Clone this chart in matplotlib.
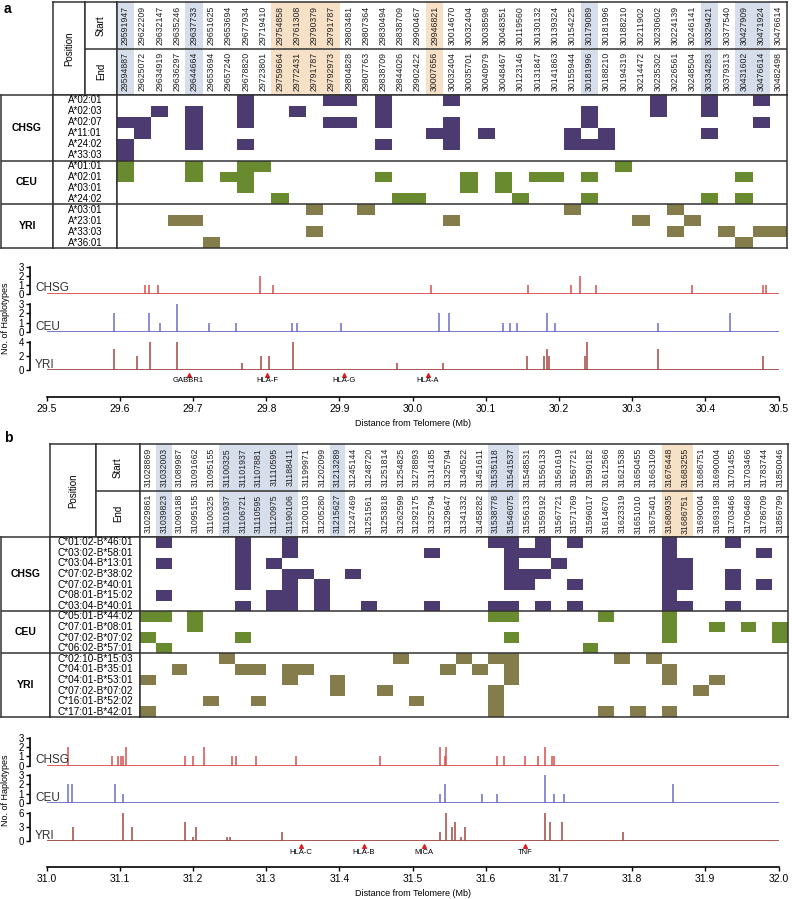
import matplotlib
matplotlib.use('Agg')
import matplotlib.pyplot as plt
import numpy as np
from matplotlib.colors import ListedColormap
from matplotlib.transforms import blended_transform_factory

plt.rcParams['font.family'] = ['Liberation Sans', 'DejaVu Sans']

W, H = 792, 899

# ---------------- panel a data ----------------
a_start = [29591947, 29622209, 29632147, 29635246, 29637733, 29651625, 29653694, 29677934,
           29719410, 29754858, 29761308, 29790379, 29791787, 29803481, 29807364, 29830494,
           29838709, 29900467, 29946821, 30014670, 30032404, 30038598, 30048351, 30119560,
           30130132, 30139324, 30154225, 30179089, 30181996, 30188210, 30211902, 30230602,
           30224139, 30246141, 30329421, 30377540, 30427909, 30471924, 30476614]
a_end = [29594887, 29625072, 29634919, 29636297, 29644664, 29653694, 29657240, 29678820,
         29723801, 29759664, 29772431, 29791787, 29792973, 29804828, 29807763, 29838709,
         29844026, 29902422, 30007656, 30032404, 30035701, 30040979, 30048467, 30123146,
         30131847, 30141863, 30155944, 30181996, 30188210, 30194319, 30214472, 30235302,
         30226561, 30248504, 30334283, 30379313, 30431602, 30476614, 30482498]
a_blue = [1, 5, 28, 35, 37, 38]
a_orange = [10, 11, 12, 13, 19]

a_chsg_alleles = ['A*02:01', 'A*02:03', 'A*02:07', 'A*11:01', 'A*24:02', 'A*33:03']
a_chsg_cells = [[8, 13, 14, 16, 20, 32, 35, 38],
                [3, 5, 8, 11, 16, 28, 32, 35],
                [1, 2, 5, 8, 13, 14, 16, 20, 28, 38],
                [2, 5, 19, 20, 22, 27, 29, 35],
                [1, 5, 8, 16, 20, 27, 28, 29],
                [1]]
a_ceu_alleles = ['A*01:01', 'A*02:01', 'A*03:01', 'A*24:02']
a_ceu_cells = [[1, 5, 8, 9, 30],
               [1, 5, 7, 8, 16, 21, 23, 25, 26, 28, 37],
               [8, 21, 23],
               [10, 17, 18, 24, 28, 35, 37]]
a_yri_alleles = ['A*03:01', 'A*23:01', 'A*33:03', 'A*36:01']
a_yri_cells = [[12, 15, 27, 33],
               [4, 5, 20, 31, 34],
               [12, 33, 36, 38, 39],
               [6, 37]]

a_chsg_x = [29.635, 29.640, 29.652, 29.792, 29.809, 30.025, 30.158, 30.216, 30.229,
            30.250, 30.382, 30.479, 30.483]
a_chsg_n = [1, 1, 1, 2, 1, 1, 1, 1, 2, 1, 1, 1, 1]
a_ceu_x = [29.592, 29.640, 29.655, 29.678, 29.722, 29.758, 29.835, 29.842, 29.902,
           30.036, 30.050, 30.124, 30.133, 30.143, 30.183, 30.194, 30.335, 30.434]
a_ceu_n = [2, 2, 1, 3, 1, 1, 1, 1, 1, 2, 2, 1, 1, 1, 2, 1, 1, 2]
a_yri_x = [29.5925, 29.623, 29.641, 29.678, 29.767, 29.793, 29.804, 29.836, 29.979,
           30.042, 30.157, 30.180, 30.183, 30.187, 30.235, 30.238, 30.335, 30.479]
a_yri_n = [3, 2, 4, 4, 1, 2, 2, 4, 1, 1, 2, 2, 3, 2, 2, 4, 3, 2]
a_genes = ['GABBR1', 'HLA-F', 'HLA-G', 'HLA-A']
a_gene_pos = [29.694, 29.801, 29.906, 30.021]
a_ticks = [29.5, 29.6, 29.7, 29.8, 29.9, 30.0, 30.1, 30.2, 30.3, 30.4, 30.5]

# ---------------- panel b data ----------------
b_start = [31028869, 31032003, 31089987, 31091662, 31095155, 31100325, 31101937, 31107881,
           31110595, 31188411, 31199971, 31202099, 31213289, 31245144, 31248720, 31251814,
           31254825, 31278893, 31314185, 31325794, 31340522, 31451611, 31535118, 31541537,
           31548531, 31556133, 31561619, 31567721, 31590182, 31612566, 31621538, 31650455,
           31663109, 31676448, 31683255, 31686751, 31690004, 31701455, 31703466, 31783744,
           31850046]
b_end = [31029861, 31039823, 31090188, 31095155, 31100325, 31101937, 31106721, 31110595,
         31120975, 31190106, 31200103, 31205280, 31215627, 31247469, 31251561, 31253818,
         31262599, 31292175, 31325794, 31329647, 31341332, 31458282, 31538778, 31546075,
         31556133, 31559192, 31567721, 31571769, 31596017, 31614670, 31623319, 31651010,
         31675401, 31680935, 31686751, 31690004, 31693198, 31703466, 31706468, 31786709,
         31856799]
b_blue = [2, 6, 7, 8, 9, 10, 13, 23, 24]
b_orange = [34, 35]

b_chsg_alleles = ['C*01:02-B*46:01', 'C*03:02-B*58:01', 'C*03:04-B*13:01', 'C*07:02-B*38:02',
                  'C*07:02-B*40:01', 'C*08:01-B*15:02', 'C*03:04-B*40:01']
b_chsg_cells = [[2, 7, 10, 23, 24, 26, 28, 34, 38],
                [7, 10, 19, 24, 25, 26, 34, 40],
                [2, 7, 9, 24, 27, 34, 35],
                [7, 10, 11, 14, 24, 25, 26, 34, 35, 38],
                [7, 10, 12, 24, 25, 28, 34, 35, 38, 40],
                [2, 9, 10, 12, 34],
                [7, 9, 10, 12, 15, 19, 23, 24, 26, 28, 34, 35, 38]]
b_ceu_alleles = ['C*05:01-B*44:02', 'C*07:01-B*08:01', 'C*07:02-B*07:02', 'C*06:02-B*57:01']
b_ceu_cells = [[1, 2, 4, 23, 24, 30, 34],
               [4, 34, 37, 39, 41],
               [1, 7, 24, 34, 41],
               [2, 29]]
b_yri_alleles = ['C*02:10-B*15:03', 'C*04:01-B*35:01', 'C*04:01-B*53:01', 'C*07:02-B*07:02',
                 'C*16:01-B*52:02', 'C*17:01-B*42:01']
b_yri_cells = [[6, 17, 21, 23, 24, 31, 33],
               [3, 7, 8, 10, 11, 20, 22, 24, 34],
               [1, 10, 13, 24, 34, 37],
               [13, 16, 23, 36],
               [5, 8, 18, 23],
               [1, 23, 30, 32, 34]]

b_chsg_x = [31.029, 31.0896, 31.097, 31.101, 31.104, 31.109, 31.189, 31.200, 31.215,
            31.253, 31.259, 31.286, 31.341, 31.456, 31.538, 31.5445, 31.546, 31.6156,
            31.6247, 31.653, 31.6715, 31.6806, 31.6906, 31.6938]
b_chsg_n = [2, 1, 1, 1, 1, 2, 1, 1, 2, 1, 1, 1, 1, 1, 2, 1, 2, 1, 1, 1, 1, 2, 1, 1]
b_ceu_x = [31.0287, 31.035, 31.0928, 31.104, 31.538, 31.5441, 31.5946, 31.6156,
           31.6806, 31.6934, 31.707, 31.8562]
b_ceu_n = [2, 2, 2, 1, 1, 2, 1, 1, 3, 1, 1, 2]
b_yri_x = [31.0355, 31.104, 31.116, 31.189, 31.200, 31.204, 31.2466, 31.2502, 31.321,
           31.538, 31.5455, 31.5537, 31.5583, 31.566, 31.5714, 31.6806, 31.6874,
           31.7043, 31.7875]
b_yri_n = [3, 6, 3, 4, 1, 3, 1, 1, 2, 2, 6, 3, 4, 1, 3, 6, 4, 4, 2]
b_genes = ['HLA-C', 'HLA-B', 'MICA', 'TNF']
b_gene_pos = [31.347, 31.433, 31.516, 31.654]
b_ticks = [31.0, 31.1, 31.2, 31.3, 31.4, 31.5, 31.6, 31.7, 31.8, 31.9, 32.0]

# ---------------- styles ----------------
C_CHSG = '#4b3b70'
C_CEU = '#6a8a30'
C_YRI = '#857c4b'
L_CHSG = '#d6504e'
L_CEU = '#6c6cc9'
L_YRI = '#a34842'
HL_BLUE = '#d6deec'
HL_ORANGE = '#f6e0c6'
EDGE = '#333333'
LW = 1.1

fig = plt.figure(figsize=(W / 100, H / 100), dpi=100)


def px_ax(l, t, r, b):
    return fig.add_axes([l / W, 1 - b / H, (r - l) / W, (b - t) / H])


def box(ax):
    ax.set_xticks([])
    ax.set_yticks([])
    for s in ax.spines.values():
        s.set_linewidth(LW)
        s.set_color(EDGE)


def table(start, end, blue, orange, groups, xs, ys, row_h, al_size):
    x_pop, x_al, x_mid, x_grid, x_right = xs
    y_top, y_body = ys
    n = len(start)
    nrows = sum(len(g[1]) for g in groups)
    y_bot = y_body + nrows * row_h

    # header
    ax = px_ax(x_al, y_top, x_mid, y_body)
    box(ax)
    ax.text(0.5, 0.5, 'Position', rotation=90, ha='center', va='center', fontsize=7)
    ax = px_ax(x_mid, y_top, x_grid, y_body)
    box(ax)
    ax.set_ylim(0, 2)
    ax.axhline(1, color=EDGE, lw=LW)
    ax.text(0.5, 1.5, 'Start', rotation=90, ha='center', va='center', fontsize=7)
    ax.text(0.5, 0.5, 'End', rotation=90, ha='center', va='center', fontsize=7)
    ax = px_ax(x_grid, y_top, x_right, y_body)
    box(ax)
    ax.set_xlim(0, n)
    ax.set_ylim(0, 2)
    ax.bar(np.array(blue) - 0.5, 2, width=1, color=HL_BLUE, align='center')
    ax.bar(np.array(orange) - 0.5, 2, width=1, color=HL_ORANGE, align='center')
    ax.axhline(1, color=EDGE, lw=LW)
    for i, (s, e) in enumerate(zip(start, end)):
        ax.text(i + 0.5, 1.5, str(s), rotation=90, ha='center', va='center',
                fontsize=6.3, color='#222222')
        ax.text(i + 0.5, 0.5, str(e), rotation=90, ha='center', va='center',
                fontsize=6.3, color='#222222')

    # body
    ax_pop = px_ax(x_pop, y_body, x_al, y_bot)
    ax_al = px_ax(x_al, y_body, x_grid, y_bot)
    ax_g = px_ax(x_grid, y_body, x_right, y_bot)
    M = np.zeros((nrows, n))
    r = 0
    bounds = []
    for gi, (name, alleles, cells) in enumerate(groups):
        ax_pop.text(0.5, r + len(alleles) / 2, name, ha='center', va='center',
                    fontsize=7.5, weight='bold')
        for j, (al, cols) in enumerate(zip(alleles, cells)):
            ax_al.text(0.5, r + j + 0.5, al, ha='center', va='center', fontsize=al_size)
            M[r + j, np.array(cols) - 1] = gi + 1
        r += len(alleles)
        bounds.append(r)
    ax_g.pcolormesh(M, cmap=ListedColormap(['white', C_CHSG, C_CEU, C_YRI]),
                    vmin=-0.5, vmax=3.5)
    ax_g.set_xlim(0, n)
    for a in (ax_pop, ax_al, ax_g):
        box(a)
        a.set_ylim(nrows, 0)
        for bnd in bounds[:-1]:
            a.axhline(bnd, color=EDGE, lw=LW)


def tracks(track_list, xlim, ticks, genes, gene_pos, rows_px, xaxis_px, ylab_y, gy):
    X0, X1 = 46.7, 778.5
    for (name, xs, ns, color, ymax, yticks), (t, b) in zip(track_list, rows_px):
        ax = px_ax(X0, t, X1, b)
        ax.patch.set_visible(False)
        ax.set_xlim(xlim)
        ax.set_ylim(0, ymax)
        ax.vlines(xs, 0, ns, color=color, lw=1.1)
        ax.axhline(0, color=color, lw=1.3)
        for s in ('top', 'right', 'bottom'):
            ax.spines[s].set_visible(False)
        ax.spines['left'].set_position(('outward', 12))
        ax.spines['left'].set_bounds(0, ymax)
        ax.spines['left'].set_linewidth(1.2)
        ax.set_xticks([])
        ax.set_yticks(yticks)
        ax.tick_params(axis='y', length=3, width=1, labelsize=7, pad=1.5)
        ax.text(-0.016, -0.05, name, transform=blended_transform_factory(ax.transAxes, ax.transData),
                fontsize=8.5, va='bottom', ha='left', color='#333333')
    t, b = xaxis_px
    ax = px_ax(X0, t, X1, b)
    ax.patch.set_visible(False)
    ax.set_xlim(xlim)
    ax.set_ylim(0, 1)
    for s in ('top', 'right', 'left'):
        ax.spines[s].set_visible(False)
    ax.spines['bottom'].set_linewidth(1.2)
    ax.set_yticks([])
    ax.set_xticks(ticks)
    ax.set_xticklabels(['%.1f' % v for v in ticks])
    ax.tick_params(axis='x', length=3, width=1, labelsize=7.5, pad=2)
    ax.set_xlabel('Distance from Telomere (Mb)', fontsize=6.5, labelpad=4)
    ax.scatter(gene_pos, [gy[0]] * len(gene_pos), marker='^', s=7, color='#e02020',
               clip_on=False, zorder=3)
    for g, p in zip(genes, gene_pos):
        ax.text(p, gy[1], g, ha='center', va='center', fontsize=5.5)
    fig.text(6 / W, 1 - ylab_y / H, 'No. of Haplotypes', rotation=90, ha='center',
             va='center', fontsize=6.5)


# ---------------- panel a ----------------
fig.text(4 / W, 1 - 9 / H, 'a', fontsize=10, weight='bold', va='center')
table(a_start, a_end, a_blue, a_orange,
      [('CHSG', a_chsg_alleles, a_chsg_cells),
       ('CEU', a_ceu_alleles, a_ceu_cells),
       ('YRI', a_yri_alleles, a_yri_cells)],
      (1, 53, 85, 116.7, 787), (2, 95), 10.93, 7)
tracks([('CHSG', a_chsg_x, a_chsg_n, L_CHSG, 3, [0, 1, 2, 3]),
        ('CEU', a_ceu_x, a_ceu_n, L_CEU, 3, [0, 1, 2, 3]),
        ('YRI', a_yri_x, a_yri_n, L_YRI, 4, [0, 2, 4])],
       (29.5, 30.5), a_ticks, a_genes, a_gene_pos,
       [(266.7, 294), (304, 332.3), (341.7, 370.3)], (372, 396.7), 318, (0.88, 0.64))

# ---------------- panel b ----------------
fig.text(4 / W, 1 - 438 / H, 'b', fontsize=10, weight='bold', va='center')
table(b_start, b_end, b_blue, b_orange,
      [('CHSG', b_chsg_alleles, b_chsg_cells),
       ('CEU', b_ceu_alleles, b_ceu_cells),
       ('YRI', b_yri_alleles, b_yri_cells)],
      (1, 50, 96, 140, 788), (444, 537), 10.59, 7.2)
tracks([('CHSG', b_chsg_x, b_chsg_n, L_CHSG, 3, [0, 1, 2, 3]),
        ('CEU', b_ceu_x, b_ceu_n, L_CEU, 3, [0, 1, 2, 3]),
        ('YRI', b_yri_x, b_yri_n, L_YRI, 6, [0, 3, 6])],
       (31.0, 32.0), b_ticks, b_genes, b_gene_pos,
       [(737.7, 765.7), (775, 803.3), (812.7, 841.3)], (843, 866.7), 790, (0.87, 0.6))

fig.savefig('out.png', dpi=100)
